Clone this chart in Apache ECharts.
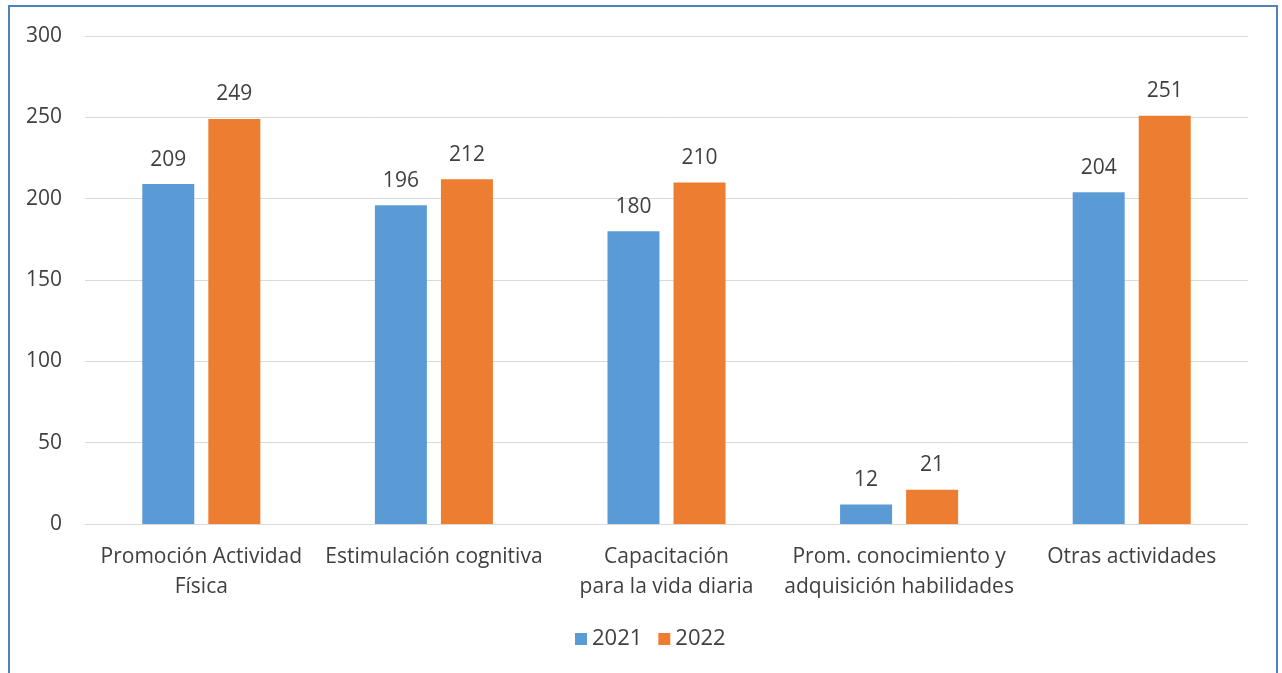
<!DOCTYPE html>
<html>
<head>
<meta charset="utf-8">
<script src="https://cdn.jsdelivr.net/npm/echarts@6/dist/echarts.min.js"></script>
<style>
  html, body { margin: 0; padding: 0; background: #fff; }
  .chart { position: absolute; left: 0; top: 0; width: 1282px; height: 673px; }
  .frame {
    position: absolute; left: 8px; top: 5px; width: 1266px; height: 700px;
    border: 2px solid #4f81bd; pointer-events: none;
  }
</style>
</head>
<body>
<div id="chart" class="chart"></div>
<div class="frame"></div>
<script>
const categories = [
  'Promoción Actividad\nFísica',
  'Estimulación cognitiva',
  'Capacitación\npara la vida diaria',
  'Prom. conocimiento y\nadquisición habilidades',
  'Otras actividades'
]
const values2021 = [209, 196, 180, 12, 204]
const values2022 = [249, 212, 210, 21, 251]
const seriesNames = ['2021', '2022']

const font = '"Open Sans", sans-serif'
const textColor = '#404040'

const chart = echarts.init(document.getElementById('chart'))

const barLabel = {
  show: true,
  position: 'top',
  distance: 14,
  fontSize: 21,
  fontFamily: font,
  color: textColor
}

chart.setOption({
  animation: false,
  grid: { left: 85, right: 34, top: 36, bottom: 149 },
  legend: {
    data: seriesNames,
    bottom: 18,
    left: 570,
    icon: 'rect',
    itemWidth: 12,
    itemHeight: 12,
    itemGap: 16,
    itemTextGap: 6,
    textStyle: { fontSize: 22, fontFamily: font, color: textColor }
  },
  xAxis: {
    type: 'category',
    data: categories,
    axisLine: { lineStyle: { color: '#d9d9d9' } },
    axisTick: { show: false },
    axisLabel: {
      interval: 0,
      margin: 18,
      fontSize: 21,
      lineHeight: 30,
      fontFamily: font,
      color: textColor
    }
  },
  yAxis: {
    type: 'value',
    min: 0,
    max: 300,
    interval: 50,
    axisLine: { show: false },
    axisTick: { show: false },
    splitLine: { lineStyle: { color: '#d9d9d9' } },
    axisLabel: { margin: 23, fontSize: 21, fontFamily: font, color: textColor }
  },
  series: [
    {
      name: seriesNames[0],
      type: 'bar',
      data: values2021,
      barWidth: 52,
      barGap: '27%',
      itemStyle: { color: '#5b9bd5' },
      label: barLabel
    },
    {
      name: seriesNames[1],
      type: 'bar',
      data: values2022,
      barWidth: 52,
      barGap: '27%',
      itemStyle: { color: '#ed7d31' },
      label: barLabel
    }
  ]
})
</script>
</body>
</html>
